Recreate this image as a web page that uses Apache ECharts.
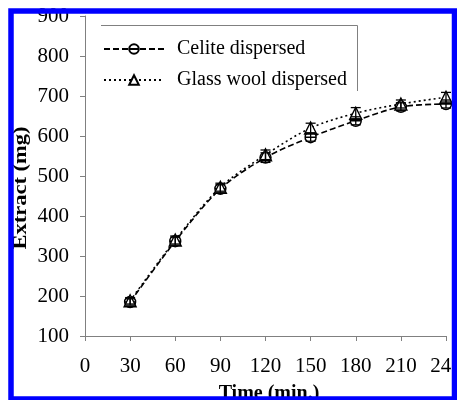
<!DOCTYPE html>
<html>
<head>
<meta charset="utf-8">
<script src="https://cdn.jsdelivr.net/npm/echarts@6/dist/echarts.min.js"></script>
<style>
  html, body { margin: 0; padding: 0; background: #fff; }
  #chart { width: 457px; height: 400px; }
</style>
</head>
<body>
<div id="chart"></div>
<script>
// Extraction time course (min) and extract mass (mg)
const times = [30, 60, 90, 120, 150, 180, 210, 240];
const celite = [185, 337, 468, 546, 597, 638, 673, 680];
const celiteErr = [8, 10, 10, 12, 10, 10, 10, 10];
const glassWool = [188, 340, 472, 553, 620, 657, 680, 697];
const glassErr = [8, 10, 10, 12, 12, 14, 10, 12];
const seriesNames = ['Celite dispersed', 'Glass wool dispersed'];
const xTicks = [0, 30, 60, 90, 120, 150, 180, 210, 240];
const yTicks = [100, 200, 300, 400, 500, 600, 700, 800, 900];

const SERIF = '"Liberation Serif", "Times New Roman", serif';
const circleBar = 'path://M0,10 A10,10 0 1,1 20,10 A10,10 0 1,1 0,10 Z M0,10 L20,10';

function pairs(xs, ys) { return xs.map((x, i) => [x, ys[i]]); }
function errData(xs, ys, es) { return xs.map((x, i) => [x, ys[i] - es[i], ys[i] + es[i]]); }

function errorBarItem(params, api) {
  const x = api.value(0);
  const lo = api.coord([x, api.value(1)]);
  const hi = api.coord([x, api.value(2)]);
  const hw = 5;
  const style = { stroke: '#000', lineWidth: 1.3, fill: null };
  return {
    type: 'group',
    children: [
      { type: 'line', shape: { x1: lo[0], y1: lo[1], x2: hi[0], y2: hi[1] }, style },
      { type: 'line', shape: { x1: lo[0] - hw, y1: lo[1], x2: lo[0] + hw, y2: lo[1] }, style },
      { type: 'line', shape: { x1: hi[0] - hw, y1: hi[1], x2: hi[0] + hw, y2: hi[1] }, style }
    ]
  };
}

const chart = echarts.init(document.getElementById('chart'), null, { renderer: 'canvas' });
chart.setOption({
  animation: false,
  backgroundColor: '#fff',
  grid: { left: 85, right: 11, top: 16, bottom: 64, containLabel: false, outerBoundsMode: 'none' },
  xAxis: {
    type: 'value', min: xTicks[0], max: xTicks[xTicks.length - 1], interval: 30,
    axisLine: { show: true, lineStyle: { color: '#808080', width: 1 } },
    axisTick: { show: true, length: 5, lineStyle: { color: '#808080' } },
    axisLabel: { color: '#000', fontFamily: SERIF, fontSize: 21, margin: 20,
                 alignMinLabel: 'center', alignMaxLabel: 'center' },
    splitLine: { show: false }
  },
  yAxis: {
    type: 'value', min: yTicks[0], max: yTicks[yTicks.length - 1], interval: 100,
    axisLine: { show: true, lineStyle: { color: '#808080', width: 1 } },
    axisTick: { show: true, length: 5, lineStyle: { color: '#808080' } },
    axisLabel: { color: '#000', fontFamily: SERIF, fontSize: 21, margin: 16 },
    splitLine: { show: false }
  },
  legend: {
    show: true,
    orient: 'vertical',
    left: 98, top: 34,
    itemWidth: 60, itemHeight: 12, itemGap: 11,
    textStyle: { fontFamily: SERIF, fontSize: 20, color: '#000', padding: [0, 0, 0, 8] },
    data: seriesNames
  },
  series: [
    {
      name: seriesNames[0], type: 'line', data: pairs(times, celite), smooth: 0.3,
      symbol: circleBar, symbolSize: 11, showSymbol: true,
      lineStyle: { color: '#000', width: 1.6, type: [6, 3] },
      itemStyle: { color: '#fff', borderColor: '#000', borderWidth: 1.4 },
      z: 3
    },
    {
      name: seriesNames[1], type: 'line', data: pairs(times, glassWool), smooth: 0.3,
      symbol: 'triangle', symbolSize: 12, showSymbol: true,
      lineStyle: { color: '#000', width: 1.6, type: [2, 3] },
      itemStyle: { color: '#fff', borderColor: '#000', borderWidth: 1.4 },
      z: 3
    },
    {
      type: 'custom', renderItem: errorBarItem, data: errData(times, celite, celiteErr),
      encode: { x: 0, y: [1, 2] }, z: 4, silent: true
    },
    {
      type: 'custom', renderItem: errorBarItem, data: errData(times, glassWool, glassErr),
      encode: { x: 0, y: [1, 2] }, z: 4, silent: true
    }
  ],
  graphic: [
    // legend frame: top and right edges only
    { type: 'polyline', shape: { points: [[101, 25.5], [357.5, 25.5], [357.5, 91]] },
      style: { stroke: '#808080', lineWidth: 1, fill: null }, z: 10 },
    { type: 'text', x: 21, y: 188, rotation: Math.PI / 2, scaleX: 1.25,
      style: { text: 'Extract (mg)', font: 'bold 18px ' + SERIF, fill: '#000', align: 'center', verticalAlign: 'middle' }, z: 10 },
    { type: 'text', x: 269, y: 394,
      style: { text: 'Time (min.)', font: 'bold 20px ' + SERIF, fill: '#000', align: 'center', verticalAlign: 'middle' }, z: 10 },
    // blue frame around the figure
    { type: 'rect', shape: { x: 11, y: 11, width: 443.5, height: 388 },
      style: { stroke: '#0000ff', lineWidth: 5.5, fill: null }, z: 100 }
  ]
});
</script>
</body>
</html>
